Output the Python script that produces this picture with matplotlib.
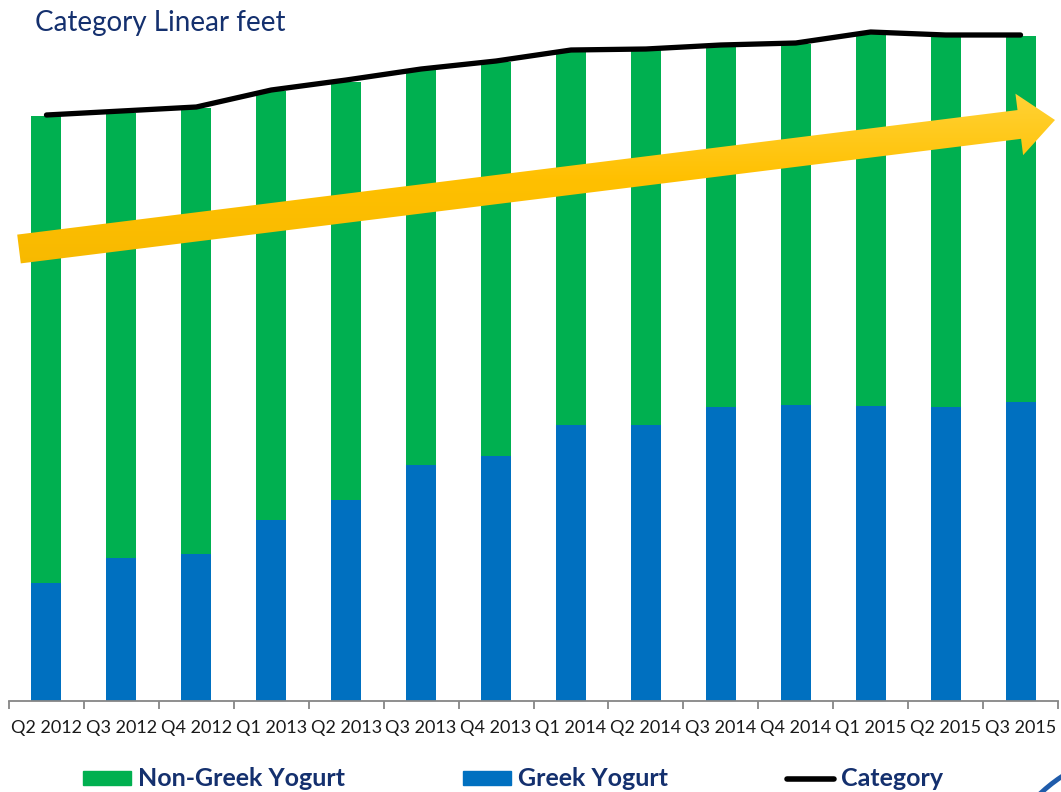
import numpy as np
import matplotlib
matplotlib.use("Agg")
import matplotlib.pyplot as plt
from matplotlib.patches import FancyArrow, Patch, Arc
from matplotlib.lines import Line2D
from matplotlib.colors import LinearSegmentedColormap

quarters = ["Q2 2012", "Q3 2012", "Q4 2012", "Q1 2013", "Q2 2013", "Q3 2013", "Q4 2013",
            "Q1 2014", "Q2 2014", "Q3 2014", "Q4 2014", "Q1 2015", "Q2 2015", "Q3 2015"]
greek = [118, 143, 147, 181, 201, 236, 245, 276, 276, 294, 296, 295, 294, 299]
non_greek = [467, 445, 446, 429, 418, 395, 394, 374, 375, 361, 361, 372, 371, 366]
category = [586, 590, 594, 611, 621, 632, 640, 651, 652, 656, 658, 669, 666, 666]

GREEN = "#00B050"
BLUE = "#0070C0"
NAVY = "#14306e"

W, H = 1061, 792
fig = plt.figure(figsize=(W / 100, H / 100), dpi=100)
ax = fig.add_axes([9 / W, (H - 701) / H, (1058 - 9) / W, 701 / H])

x = np.arange(len(quarters))
ax.bar(x, greek, width=0.4, color=BLUE, zorder=2)
ax.bar(x, non_greek, width=0.4, bottom=greek, color=GREEN, zorder=2)
ax.plot(x, category, color="black", lw=3.8, solid_capstyle="round",
        solid_joinstyle="round", zorder=3)

ax.set_xlim(-0.5, len(quarters) - 0.5)
ax.set_ylim(0, 701)
ax.set_yticks([])
for s in ["left", "right", "top"]:
    ax.spines[s].set_visible(False)
ax.spines["bottom"].set_color("#868686")
ax.spines["bottom"].set_linewidth(1.3)
ax.set_xticks(x)
ax.set_xticklabels(quarters, fontsize=13, family="Lato", color="#1a1a1a")
ax.set_xticks(np.arange(len(quarters) + 1) - 0.5, minor=True)
ax.tick_params(axis="x", which="major", length=0, pad=14)
ax.tick_params(axis="x", which="minor", length=6, width=1.3, color="#868686")

# overlay in pixel coordinates for the decorative arrow
ov = fig.add_axes([0, 0, 1, 1], zorder=5)
ov.set_xlim(0, W)
ov.set_ylim(H, 0)
ov.axis("off")
ov.patch.set_alpha(0)

arrow = FancyArrow(19, 249, 1036, -129, width=29, head_width=62, head_length=36,
                   length_includes_head=True, facecolor="none", edgecolor="none")
ov.add_patch(arrow)
cmap = LinearSegmentedColormap.from_list("gold", ["#FFD338", "#FFC000", "#F7B900"])
grad = np.linspace(0, 1, 256).reshape(-1, 1)
img = ov.imshow(grad, cmap=cmap, extent=[0, W, 270, 90], aspect="auto", zorder=5)
img.set_clip_path(arrow)

ov.add_patch(Arc((1150, 910), 320, 320, theta1=180, theta2=270,
                 color="#1F5BAA", lw=3.5))

fig.text(35 / W, (H - 23) / H, "Category Linear feet", fontsize=20, family="Lato",
         color=NAVY, va="center", ha="left")

handles = [Patch(color=GREEN), Patch(color=BLUE),
           Line2D([0], [0], color="black", lw=4, solid_capstyle="round")]
labels = ["Non-Greek Yogurt", "Greek Yogurt", "Category"]
leg = fig.legend(handles, labels, ncol=3, loc="center left",
                 bbox_to_anchor=(83 / W, (H - 779) / H), frameon=False,
                 prop={"family": "Lato", "weight": "bold", "size": 18},
                 handlelength=1.9, handleheight=0.5, handletextpad=0.28,
                 columnspacing=4.75, borderaxespad=0, borderpad=0)
for t in leg.get_texts():
    t.set_color(NAVY)

fig.savefig("out.png", dpi=100)
